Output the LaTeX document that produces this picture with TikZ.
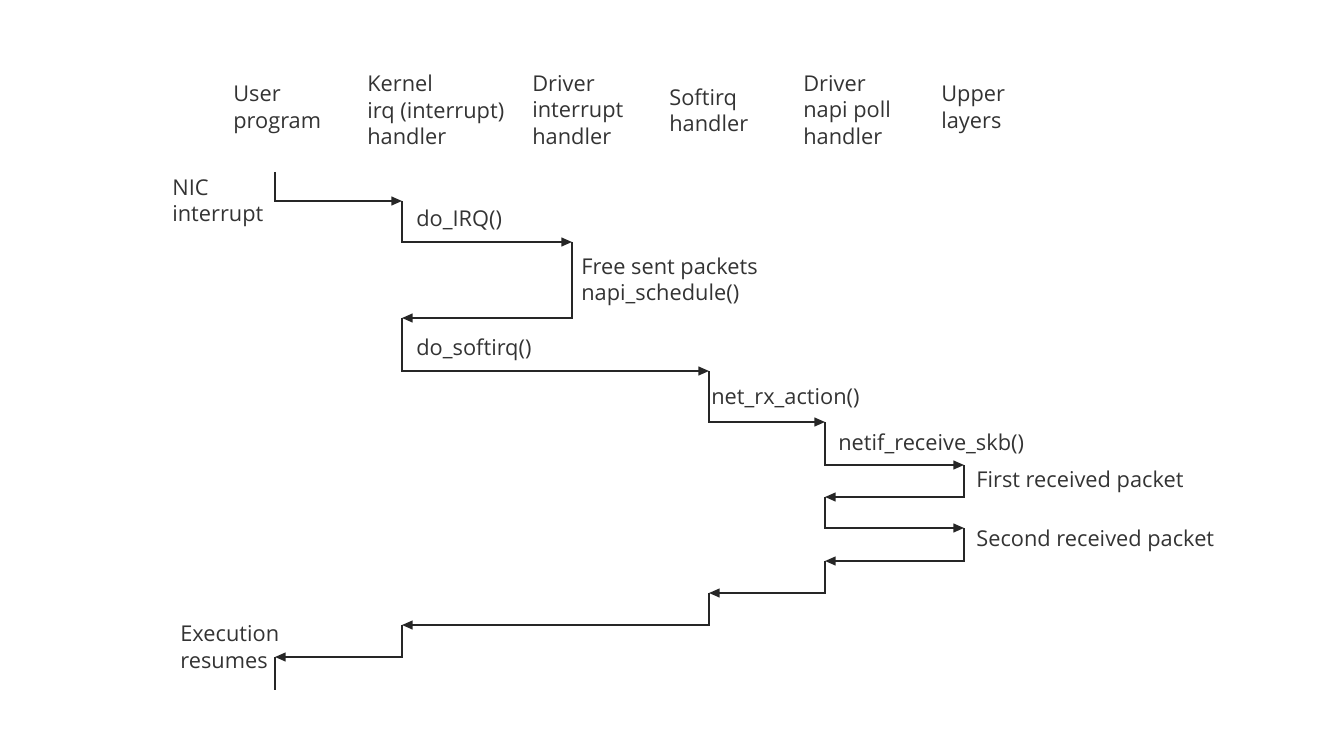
\documentclass[tikz,border=0pt]{standalone}
\usepackage{fontspec}
\setmainfont{Open Sans}
\usetikzlibrary{arrows.meta, positioning}

\begin{document}
\begin{tikzpicture}[x=0.02cm, y=-0.02cm]
    \tikzstyle{label} = [anchor=west, inner sep=0pt, align=left, text=black!80, font=\fontsize{12.4}{15}\selectfont];
    \tikzstyle{flow} = [draw=black!85, line width=0.85pt, -{Triangle[length=6pt, width=5pt]}];

    \useasboundingbox (0, 0) rectangle (1344, 746);

    % column headings
    \node[label] (user) at (233, 110) {User\\program};
    \node[label] (kernel) at (367, 110) {Kernel\\irq (interrupt)\\handler};
    \node[label] (drvirq) at (532, 110) {Driver\\interrupt\\handler};
    \node[label] (softirq) at (669, 110) {Softirq\\handler};
    \node[label] (napi) at (803, 110) {Driver\\napi poll\\handler};
    \node[label] (upper) at (941, 110) {Upper\\layers};

    % turning points
    \coordinate (t0) at (275, 172);
    \coordinate (t1) at (402, 201);
    \coordinate (t2) at (572, 242);
    \coordinate (t3) at (402, 318);
    \coordinate (t4) at (709, 371);
    \coordinate (t5) at (825, 422);
    \coordinate (t6) at (964, 465);
    \coordinate (t7) at (825, 497);
    \coordinate (t8) at (964, 528);
    \coordinate (t9) at (825, 561);
    \coordinate (t10) at (709, 593);
    \coordinate (t11) at (402, 625);
    \coordinate (t12) at (275, 657);
    \coordinate (t13) at (275, 690);

    % step labels
    \node[label] (nic) at (172, 203) {NIC\\interrupt};
    \node[label] (doirq) at (416, 220) {do\_IRQ()};
    \node[label] (free) at (581, 282) {Free sent packets\\napi\_schedule()};
    \node[label] (dosoft) at (416, 350) {do\_softirq()};
    \node[label] (netrx) at (711, 398) {net\_rx\_action()};
    \node[label] (netif) at (838, 444) {netif\_receive\_skb()};
    \node[label] (first) at (976, 482) {First received packet};
    \node[label] (second) at (976, 541) {Second received packet};
    \node[label] (resume) at (180, 647) {Execution\\resumes};

    \draw[flow] (t0) |- (t1);
    \draw[flow] (t1) |- (t2);
    \draw[flow] (t2) |- (t3);
    \draw[flow] (t3) |- (t4);
    \draw[flow] (t4) |- (t5);
    \draw[flow] (t5) |- (t6);
    \draw[flow] (t6) |- (t7);
    \draw[flow] (t7) |- (t8);
    \draw[flow] (t8) |- (t9);
    \draw[flow] (t9) |- (t10);
    \draw[flow] (t10) |- (t11);
    \draw[flow] (t11) |- (t12);
    \draw[draw=black!85, line width=0.85pt] (t12) -- (t13);
\end{tikzpicture}
\end{document}
